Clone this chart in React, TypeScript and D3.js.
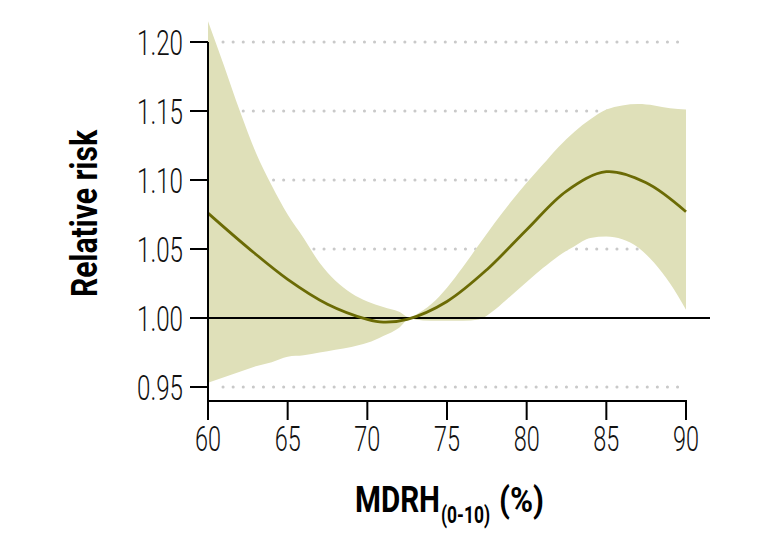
import React, { useLayoutEffect, useRef, useState } from "react";
import * as d3 from "d3";

const yTicks = [0.95, 1.0, 1.05, 1.1, 1.15, 1.2];
const yTickLabels = ["0.95", "1.00", "1.05", "1.10", "1.15", "1.20"];
const xTicks = [60, 65, 70, 75, 80, 85, 90];

const bandX = [60, 61, 62, 63, 64, 65, 66, 67, 68, 69, 70, 71, 72, 72.7, 73, 74, 75, 76, 77, 78, 79, 80, 81, 82, 83, 84, 85, 86, 87, 88, 89, 90];
const bandUpper = [1.215, 1.183, 1.15, 1.12, 1.096, 1.075, 1.058, 1.04, 1.027, 1.018, 1.012, 1.008, 1.0045, 1.0, 1.002, 1.01, 1.022, 1.037, 1.053, 1.069, 1.084, 1.098, 1.111, 1.124, 1.135, 1.144, 1.151, 1.154, 1.155, 1.154, 1.152, 1.151];
const bandLower = [0.953, 0.957, 0.961, 0.965, 0.968, 0.972, 0.973, 0.975, 0.977, 0.979, 0.982, 0.987, 0.993, 1.0, 0.999, 0.998, 0.998, 0.998, 0.999, 1.006, 1.016, 1.026, 1.036, 1.045, 1.052, 1.058, 1.059, 1.057, 1.051, 1.04, 1.025, 1.006];

const lineX = [60, 62.5, 65, 67.5, 70, 71, 72.5, 75, 77.5, 80, 82.5, 85, 87.5, 90];
const lineY = [1.076, 1.051, 1.028, 1.01, 0.999, 0.997, 0.999, 1.012, 1.035, 1.064, 1.092, 1.106, 1.098, 1.077];

const FONT = "Roboto, 'Liberation Sans', sans-serif";

function FitText(props: { x: number; y: number; width: number; size: number; children: string }) {
  const ref = useRef<SVGTextElement>(null);
  const [s, setS] = useState(0.82);
  useLayoutEffect(() => {
    if (ref.current) {
      const w = ref.current.getComputedTextLength();
      if (w > 0) setS(props.width / w);
    }
  }, [props.width, props.children]);
  return (
    <text
      ref={ref}
      transform={`translate(${props.x},${props.y}) scale(${s},1)`}
      fontSize={props.size}
      fontWeight="bold"
      fill="#000"
    >
      {props.children}
    </text>
  );
}

export default function App() {
  const x = d3.scaleLinear().domain([60, 90]).range([208, 686]);
  const y = d3.scaleLinear().domain([0.95, 1.2]).range([387, 42]);
  const axisY = 401;

  const bandData = bandX.map((v, i) => ({ x: v, lo: bandLower[i], hi: bandUpper[i] }));
  const area = d3
    .area<{ x: number; lo: number; hi: number }>()
    .x((d) => x(d.x))
    .y0((d) => y(d.lo))
    .y1((d) => y(d.hi))
    .curve(d3.curveMonotoneX);

  const lineData = lineX.map((v, i) => ({ x: v, y: lineY[i] }));
  const line = d3
    .line<{ x: number; y: number }>()
    .x((d) => x(d.x))
    .y((d) => y(d.y))
    .curve(d3.curveCatmullRom.alpha(0.5));

  return (
    <svg
      width={778}
      height={540}
      style={{ position: "absolute", left: 0, top: 0, background: "#fff" }}
      fontFamily={FONT}
    >
      {yTicks
        .filter((t) => t !== 1.0)
        .map((t) => (
          <line
            key={"g" + t}
            x1={x(60) + 15}
            x2={x(90)}
            y1={y(t)}
            y2={y(t)}
            stroke="#c9c9c9"
            strokeWidth={3}
            strokeLinecap="round"
            strokeDasharray="0.1 10"
          />
        ))}
      <path d={area(bandData) || ""} fill="#dfe0b9" stroke="none" />
      <line x1={x(60)} x2={710} y1={y(1)} y2={y(1)} stroke="#000" strokeWidth={2.2} />
      <path d={line(lineData) || ""} fill="none" stroke="#6b6b05" strokeWidth={2.8} />
      <line x1={x(60)} x2={x(60)} y1={y(1.2)} y2={axisY} stroke="#000" strokeWidth={2} />
      {yTicks.map((t, i) => (
        <g key={"y" + t}>
          <line x1={190} x2={x(60)} y1={y(t)} y2={y(t)} stroke="#000" strokeWidth={2} />
          <text
            x={137}
            y={y(t) + 12.5}
            textLength={46}
            lengthAdjust="spacingAndGlyphs"
            fontSize={35}
            fontWeight={300}
            fill="#111"
          >
            {yTickLabels[i]}
          </text>
        </g>
      ))}
      <line x1={x(60) - 1} x2={x(90) + 1} y1={axisY} y2={axisY} stroke="#000" strokeWidth={2} />
      {xTicks.map((t) => (
        <g key={"x" + t}>
          <line x1={x(t)} x2={x(t)} y1={axisY} y2={420} stroke="#000" strokeWidth={2} />
          <text
            x={x(t) - 13}
            y={451}
            textLength={26}
            lengthAdjust="spacingAndGlyphs"
            fontSize={35}
            fontWeight={300}
            fill="#111"
          >
            {t}
          </text>
        </g>
      ))}
      <text
        transform="translate(97,297) rotate(-90)"
        x={0}
        y={0}
        textLength={167}
        lengthAdjust="spacingAndGlyphs"
        fontSize={36}
        fontWeight="bold"
        fill="#000"
      >
        Relative risk
      </text>
      <FitText x={355} y={512} width={85} size={36}>MDRH</FitText>
      <FitText x={441} y={523} width={49} size={24}>(0-10)</FitText>
      <FitText x={499} y={512} width={45} size={36}>(%)</FitText>
    </svg>
  );
}
